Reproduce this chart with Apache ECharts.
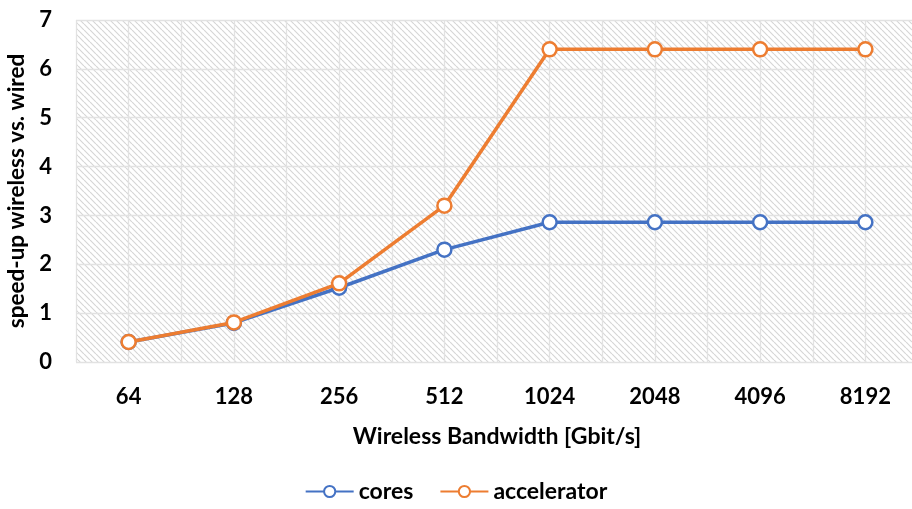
<!DOCTYPE html>
<html>
<head>
<meta charset="utf-8">
<script src="https://cdn.jsdelivr.net/npm/echarts@6/dist/echarts.min.js"></script>
<style>
  html, body { margin: 0; padding: 0; background: #ffffff; }
  #chart { width: 912px; height: 509px; }
</style>
</head>
<body>
<div id="chart"></div>
<script>
const bandwidths = ['64', '128', '256', '512', '1024', '2048', '4096', '8192'];
const coresSpeedup = [0.41, 0.80, 1.52, 2.30, 2.86, 2.86, 2.86, 2.86];
const acceleratorSpeedup = [0.41, 0.81, 1.61, 3.20, 6.40, 6.40, 6.40, 6.40];
const yTicks = [0, 1, 2, 3, 4, 5, 6, 7];

// Diagonal hatch fill for the plot area
function makeHatch() {
  const c = document.createElement('canvas');
  const s = 6;
  c.width = s; c.height = s;
  const g = c.getContext('2d');
  g.fillStyle = '#ffffff';
  g.fillRect(0, 0, s, s);
  g.strokeStyle = '#d6d6d6';
  g.lineWidth = 1.2;
  g.beginPath();
  g.moveTo(0, 0); g.lineTo(s, s);
  g.moveTo(-s, 0); g.lineTo(0, s);
  g.moveTo(s, 0); g.lineTo(2 * s, s);
  g.stroke();
  return { image: c, repeat: 'repeat' };
}

const font = 'Lato, "Open Sans", sans-serif';
const textBold = (size) => ({ fontFamily: font, fontWeight: 'bold', fontSize: size, color: '#000' });
const chart = echarts.init(document.getElementById('chart'), null, { renderer: 'canvas' });

chart.setOption({
  animation: false,
  grid: {
    left: 76, right: -6, top: 20, bottom: 147,
    containLabel: false, outerBoundsMode: 'none',
    show: true, backgroundColor: makeHatch(), borderWidth: 0
  },
  legend: {
    bottom: 1, left: 'center', itemGap: 26, itemWidth: 48, itemHeight: 14,
    textStyle: textBold(23),
    data: ['cores', 'accelerator']
  },
  xAxis: [
    {
      type: 'category', data: bandwidths, boundaryGap: true,
      name: 'Wireless Bandwidth [Gbit/s]', nameLocation: 'middle', nameGap: 63,
      nameTextStyle: textBold(23),
      axisLine: { show: false }, axisTick: { show: false },
      axisLabel: Object.assign(textBold(22), { margin: 24 }),
      splitLine: { show: false }
    },
    {
      type: 'value', min: 0, max: 16, interval: 1, show: true, position: 'bottom',
      axisLine: { show: false }, axisTick: { show: false }, axisLabel: { show: false },
      splitLine: { show: true, lineStyle: { color: '#e2e2e2', width: 1.3 } }
    }
  ],
  yAxis: {
    type: 'value', min: yTicks[0], max: yTicks[yTicks.length - 1], interval: 1,
    name: 'speed-up wireless vs. wired', nameLocation: 'middle', nameGap: 48,
    nameTextStyle: textBold(22.5),
    axisLine: { show: false }, axisTick: { show: false },
    axisLabel: Object.assign(textBold(22), { margin: 24 }),
    splitLine: { show: true, lineStyle: { color: '#e2e2e2', width: 1.3 } }
  },
  series: [
    {
      name: 'cores', type: 'line', data: coresSpeedup,
      symbol: 'circle', symbolSize: 14,
      lineStyle: { color: '#4472C4', width: 3.5 },
      itemStyle: { color: '#ffffff', borderColor: '#4472C4', borderWidth: 2.5 },
      z: 3
    },
    {
      name: 'accelerator', type: 'line', data: acceleratorSpeedup,
      symbol: 'circle', symbolSize: 14,
      lineStyle: { color: '#ED7D31', width: 3.5 },
      itemStyle: { color: '#ffffff', borderColor: '#ED7D31', borderWidth: 2.5 },
      z: 4
    }
  ]
});
</script>
</body>
</html>
